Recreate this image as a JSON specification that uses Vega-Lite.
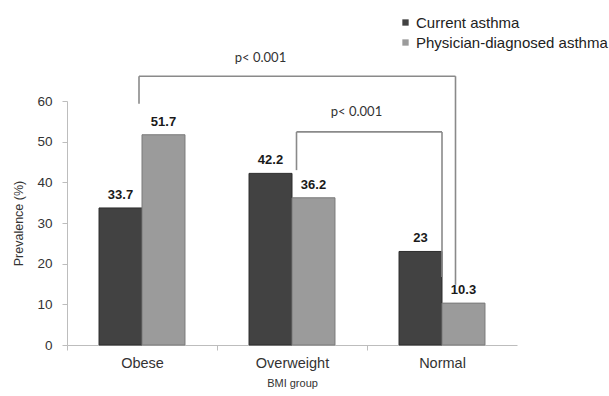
{
  "$schema": "https://vega.github.io/schema/vega-lite/v6.json",
  "width": 450,
  "height": 244,
  "autosize": "none",
  "padding": {"left": 67, "top": 101, "right": 92, "bottom": 51},
  "background": "white",
  "config": {
    "view": {"stroke": null},
    "font": "Liberation Sans",
    "axis": {
      "domainColor": "#bdbdbd",
      "tickColor": "#bdbdbd",
      "labelColor": "#333333",
      "titleColor": "#333333",
      "labelFont": "Liberation Sans",
      "titleFont": "Liberation Sans",
      "titleFontWeight": "normal",
      "grid": false
    }
  },
  "datasets": {
    "prevalence": [
      {"group": "Obese", "measure": "Current asthma", "value": 33.7},
      {"group": "Obese", "measure": "Physician-diagnosed asthma", "value": 51.7},
      {"group": "Overweight", "measure": "Current asthma", "value": 42.2},
      {"group": "Overweight", "measure": "Physician-diagnosed asthma", "value": 36.2},
      {"group": "Normal", "measure": "Current asthma", "value": 23},
      {"group": "Normal", "measure": "Physician-diagnosed asthma", "value": 10.3}
    ],
    "brackets": [
      {"x": 0.48, "x2": 2.59, "y": 66.1, "y2": 66.1},
      {"x": 0.48, "x2": 0.48, "y": 66.1, "y2": 59.3},
      {"x": 2.59, "x2": 2.59, "y": 66.1, "y2": 14.8},
      {"x": 1.53, "x2": 2.5, "y": 52.4, "y2": 52.4},
      {"x": 1.53, "x2": 1.53, "y": 52.4, "y2": 43},
      {"x": 2.5, "x2": 2.5, "y": 52.4, "y2": 16.7}
    ],
    "pvalues": [
      {"x": 1.29, "y": 70.6, "label": "p< 0.001"},
      {"x": 1.93, "y": 57.4, "label": "p< 0.001"}
    ]
  },
  "layer": [
    {
      "data": {"name": "prevalence"},
      "encoding": {
        "x": {
          "field": "group",
          "type": "nominal",
          "sort": ["Obese", "Overweight", "Normal"],
          "scale": {"paddingInner": 0.427, "paddingOuter": 0.2135},
          "axis": {
            "title": "BMI group",
            "titleFontSize": 11,
            "titlePadding": 8,
            "labelFontSize": 14.5,
            "labelAngle": 0,
            "labelPadding": 6,
            "tickSize": 5,
            "tickOffset": -75,
            "labelOffset": 75
          }
        },
        "xOffset": {
          "field": "measure",
          "type": "nominal",
          "sort": ["Current asthma", "Physician-diagnosed asthma"]
        },
        "y": {
          "field": "value",
          "type": "quantitative",
          "scale": {"domain": [0, 60], "nice": false},
          "axis": {
            "title": "Prevalence (%)",
            "titleFontSize": 12.5,
            "titlePadding": 11,
            "values": [0, 10, 20, 30, 40, 50, 60],
            "labelFontSize": 13.5,
            "labelPadding": 10,
            "tickSize": 5
          }
        }
      },
      "layer": [
        {
          "mark": {"type": "bar", "strokeWidth": 1},
          "encoding": {
            "color": {
              "field": "measure",
              "type": "nominal",
              "sort": ["Current asthma", "Physician-diagnosed asthma"],
              "scale": {"range": ["#424242", "#9b9b9b"]},
              "legend": {
                "title": null,
                "orient": "none",
                "legendX": 331,
                "legendY": -86,
                "padding": 0,
                "symbolType": "square",
                "symbolSize": 40,
                "symbolStrokeWidth": 0,
                "labelFont": "Liberation Sans",
                "labelFontSize": 15,
                "labelColor": "#222222",
                "labelOffset": 3,
                "rowPadding": 4,
                "labelLimit": 300
              }
            },
            "stroke": {
              "field": "measure",
              "type": "nominal",
              "sort": ["Current asthma", "Physician-diagnosed asthma"],
              "scale": {"range": ["#2c2c2c", "#7a7a7a"]},
              "legend": null
            }
          }
        },
        {
          "mark": {
            "type": "text",
            "baseline": "bottom",
            "dy": -6,
            "fontSize": 13,
            "fontWeight": "bold",
            "color": "#1a1a1a"
          },
          "encoding": {"text": {"field": "value", "type": "quantitative"}}
        }
      ]
    },
    {
      "layer": [
        {
          "data": {"name": "brackets"},
          "mark": {"type": "rule", "color": "#8a8a8a", "strokeWidth": 1.6},
          "encoding": {
            "x": {"field": "x", "type": "quantitative", "scale": {"domain": [0, 3], "nice": false, "zero": false}, "axis": null},
            "x2": {"field": "x2"},
            "y": {"field": "y", "type": "quantitative"},
            "y2": {"field": "y2"}
          }
        },
        {
          "data": {"name": "pvalues"},
          "mark": {"type": "text", "font": "Lato", "fontSize": 13, "color": "#333333"},
          "encoding": {
            "x": {"field": "x", "type": "quantitative"},
            "y": {"field": "y", "type": "quantitative"},
            "text": {"field": "label"}
          }
        }
      ]
    }
  ],
  "resolve": {"scale": {"x": "independent"}}
}
